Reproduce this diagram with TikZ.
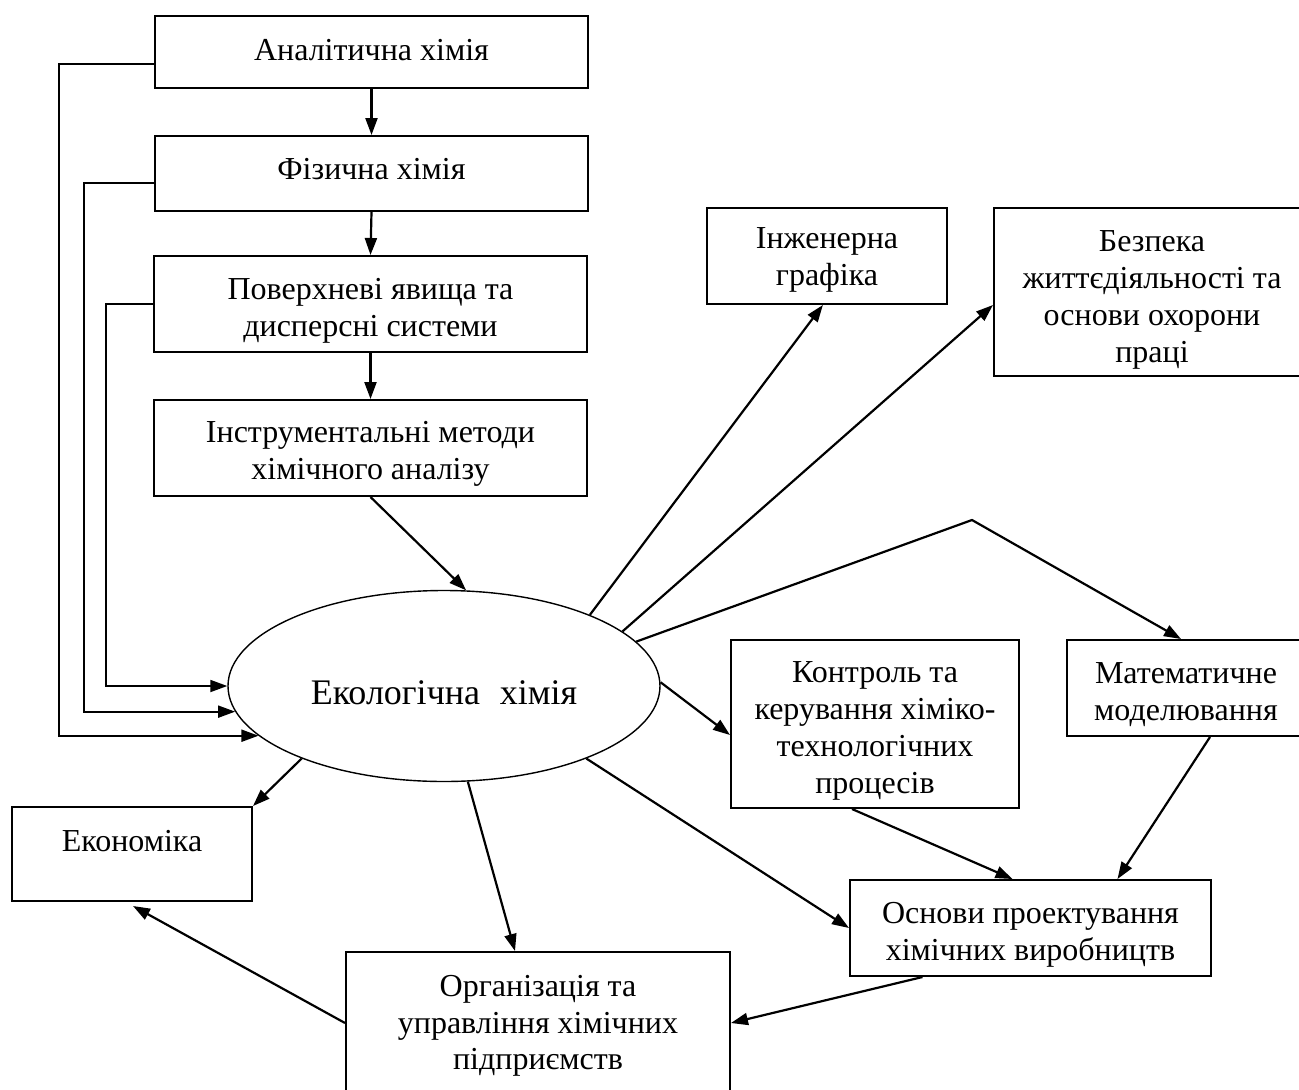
\documentclass[tikz,border=0pt]{standalone}
\usepackage{fontspec}
\setmainfont{Liberation Serif}
\usetikzlibrary{arrows.meta,shapes.geometric,calc}

\tikzset{
  box/.style={draw, rectangle, line width=2pt, inner sep=0pt},
  txt/.style={inner sep=0pt, align=center, font=\fontsize{32}{37}\selectfont},
  oval/.style={draw, ellipse, line width=1.4pt, inner sep=0pt,
    minimum width=432pt, minimum height=191pt},
  bigtxt/.style={inner sep=0pt, font=\fontsize{36}{42}\selectfont},
  arr/.style={line width=2.2pt, -{Triangle[length=17pt,width=12pt]}},
  feed/.style={line width=1.8pt, -{Triangle[length=17pt,width=12pt]}},
}

\begin{document}
\begin{tikzpicture}[x=1pt,y=-1pt]
  \useasboundingbox (0,0) rectangle (1299,1090);
  \fill[white] (0,0) rectangle (1299,1090);
  \clip (0,0) rectangle (1299,1090);

  % prerequisite chain
  \node[box, minimum width=433pt, minimum height=72pt] (ana) at (371.5,52) {};
  \node[txt] (ana-t) at ($(ana.center)+(0,-2)$) {Аналітична хімія};
  \node[box, minimum width=433pt, minimum height=75pt] (fiz) at (371.5,173.5) {};
  \node[txt] (fiz-t) at ($(fiz.center)+(0,-4)$) {Фізична хімія};
  \node[box, minimum width=433pt, minimum height=96pt] (pov) at (370.5,304) {};
  \node[txt] (pov-t) at ($(pov.center)+(0,7)$) {Поверхневі явища та\\дисперсні системи};
  \node[box, minimum width=433pt, minimum height=96pt] (inst) at (370.5,448) {};
  \node[txt] (inst-t) at ($(inst.center)+(0,6)$) {Інструментальні методи\\хімічного аналізу};

  % central discipline
  \node[oval] (ell) at (444,686) {};
  \node[bigtxt] (ell-t) at ($(ell.center)+(0,7)$) {Екологічна\hspace{0.3em} хімія};

  % follow-up disciplines
  \node[box, minimum width=240pt, minimum height=96pt] (ink) at (827,256) {};
  \node[txt] (ink-t) at ($(ink.center)+(0,4)$) {Інженерна\\графіка};
  \node[box, minimum width=316pt, minimum height=168pt] (bez) at (1152,292) {};
  \node[txt] (bez-t) at ($(bez.center)+(0,8)$) {Безпека\\життєдіяльності та\\основи охорони\\праці};
  \node[box, minimum width=238pt, minimum height=96pt] (mat) at (1186,688) {};
  \node[txt] (mat-t) at ($(mat.center)+(0,7)$) {Математичне\\моделювання};
  \node[box, minimum width=288pt, minimum height=168pt] (kon) at (875,724) {};
  \node[txt] (kon-t) at ($(kon.center)+(0,7)$) {Контроль та\\керування хіміко-\\технологічних\\процесів};
  \node[box, minimum width=361pt, minimum height=96pt] (osn) at (1030.5,928) {};
  \node[txt] (osn-t) at ($(osn.center)+(0,7)$) {Основи проектування\\хімічних виробництв};
  \node[box, minimum width=240pt, minimum height=94pt] (eko) at (132,854) {};
  \node[txt] (eko-t) at ($(eko.center)+(0,-13)$) {Економіка};
  \node[box, minimum width=384pt, minimum height=142pt] (org) at (538,1023) {};
  \node[txt, font=\fontsize{32}{36.5}\selectfont] (org-t) at ($(org.center)+(0,3)$) {Організація та\\управління хімічних\\підприємств};

  \coordinate (apex) at (972,520);

  % vertical chain
  \draw[arr] (ana.south) -- (fiz.north);
  \draw[arr] (fiz.south) -- (pov.north);
  \draw[arr] (pov.south) -- (inst.north);
  \draw[arr] (inst.south) -- (ell.77.5);

  % feedback lines on the left
  \draw[feed] ($(ana.west)+(0,12)$) -- ++(-95,0) |- (ell.195);
  \draw[feed] ($(fiz.west)+(0,9.5)$) -- ++(-70,0) |- (ell.187);
  \draw[feed] (pov.west) -- ++(-47,0) |- (ell.180);

  % outgoing links
  \draw[arr] (ell.26.4) -- ($(ink.south west)!0.483!(ink.south east)$);
  \draw[arr] (ell.17.4) -- ($(bez.west)+(0,13)$);
  \draw[arr] (ell.13.5) -- (apex) -- ($(mat.north)+(-5,0)$);
  \draw[arr] (ell.1) -- ($(kon.west)+(0,11)$);
  \draw[arr] (ell.-27) -- (osn.west);
  \draw[arr] (ell.-76) -- ($(org.north)+(-23,0)$);
  \draw[arr] (ell.-153) -- (eko.north east);

  \draw[arr] ($(kon.south)+(-23,0)$) -- ($(osn.north)+(-18,0)$);
  \draw[arr] ($(mat.south)+(24,0)$) -- ($(osn.north)+(87,0)$);
  \draw[arr] ($(osn.south)+(-108,0)$) -- (org.east);
  \draw[arr] (org.west) -- ($(eko.south)+(1,4)$);
\end{tikzpicture}
\end{document}
